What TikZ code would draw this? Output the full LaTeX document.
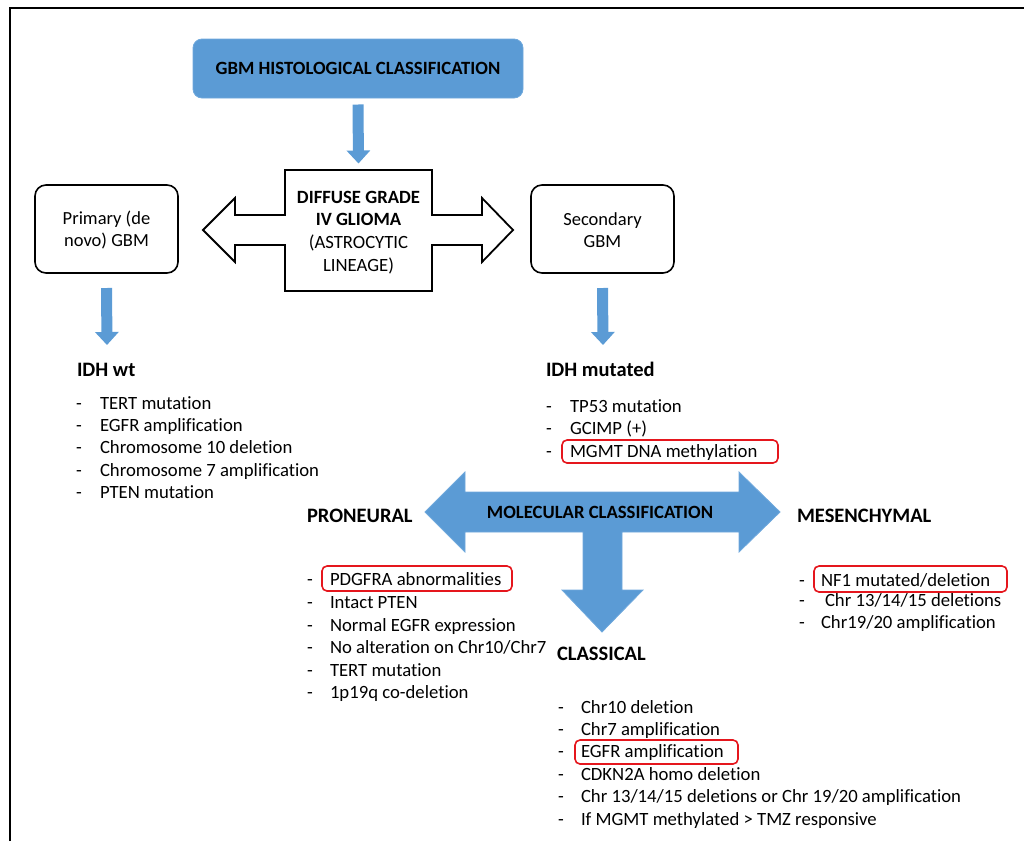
\documentclass[tikz,border=0pt]{standalone}
\usepackage{fontspec}
\setmainfont{Carlito}[Ligatures=NoCommon]
\usetikzlibrary{arrows.meta}
\definecolor{gblue}{HTML}{5B9BD5}
\definecolor{gblueedge}{HTML}{6FA8DC}
\definecolor{gred}{HTML}{E5161D}
\begin{document}
\begin{tikzpicture}[x=1pt,y=-1pt,
  every node/.style={font=\fontsize{18.7}{22}\selectfont, inner sep=0pt, outer sep=0pt},
  txt/.style={anchor=base west},
  hd/.style={anchor=base west, font=\fontsize{20.5}{24}\selectfont\bfseries},
  rbox/.style={draw=gred, line width=1.6pt, rounded corners=5pt, anchor=north west},
  bluearrow/.style={draw=gblue, line width=11pt, -{Triangle[width=23pt,length=13pt]}},
  blkbox/.style={draw=black, line width=1.6pt, rounded corners=11pt, align=center,
     font=\fontsize{18.5}{22}\selectfont, minimum width=143pt, minimum height=88pt},
  frameline/.style={line width=2.5pt, black},
  outarrow/.style={draw=black, line width=1.8pt, fill=white, line join=miter},
  bigarrow/.style={fill=gblue, draw=gblueedge, line width=0.8pt}
]
\useasboundingbox (0,0) rectangle (1024,841);
% frame
\coordinate (fl) at (10,841);
\coordinate (fc) at (10,8);
\coordinate (fr) at (1024,8);
\draw[frameline] (fl) -- (fc) -- (fr);

% title box
\node[fill=gblue, draw=gblueedge, line width=0.8pt, rounded corners=9pt,
      minimum width=330pt, minimum height=59pt,
      font=\fontsize{18.7}{22}\selectfont\bfseries] (gbm) at (358,68.5)
      {GBM HISTOLOGICAL CLASSIFICATION};

% central outlined double arrow
\draw[outarrow] (285,170) -- (432,170) -- (432,215) -- (482,215) -- (482,198)
  -- (513,230) -- (482,262) -- (482,245) -- (432,245) -- (432,291) -- (285,291)
  -- (285,245) -- (235,245) -- (235,262) -- (203,230) -- (235,198) -- (235,215)
  -- (285,215) -- cycle;
\node[align=center, font=\fontsize{18.7}{22.7}\selectfont, minimum width=147pt,
      minimum height=121pt] (diff) at (358.5,232.5)
  {\textbf{DIFFUSE GRADE}\\\textbf{IV GLIOMA}\\(ASTROCYTIC\\LINEAGE)};

\draw[bluearrow] ([yshift=-6.5pt]gbm.south) -- ([yshift=8.5pt]diff.north);

% primary / secondary
\node[blkbox] (prim) at (106.5,229) {\rule{0pt}{15pt}Primary (de\\novo) GBM};
\node[blkbox] (sec) at (602.5,229) {\rule{0pt}{15pt}Secondary\\GBM};

\coordinate (ia) at (107,345);
\coordinate (ib) at (603,345);
\draw[bluearrow] ([yshift=-15pt]prim.south) -- (ia);
\draw[bluearrow] ([yshift=-15pt]sec.south) -- (ib);

% IDH wt
\node[hd] (idhwt) at (77,376) {IDH wt};
\node[txt] at (76,409.5) {-};
\node[txt] at (76,431.5) {-};
\node[txt] at (76,453.5) {-};
\node[txt] at (76,476) {-};
\node[txt] at (76,498.5) {-};
\node[txt] (w1) at (100,409.5) {TERT mutation};
\node[txt] (w2) at (100,431.5) {EGFR amplification};
\node[txt] (w3) at (100,453.5) {Chromosome 10 deletion};
\node[txt] (w4) at (100,476) {Chromosome 7 amplification};
\node[txt] (w5) at (100,498.5) {PTEN mutation};

% IDH mutated
\node[hd] (idhm) at (546,376) {IDH mutated};
\node[txt] at (546,412) {-};
\node[txt] at (546,434.5) {-};
\node[txt] at (546,457) {-};
\node[txt] (m1) at (570,412) {TP53 mutation};
\node[txt] (m2) at (570,434.5) {GCIMP (+)};
\node[txt] (m3) at (570,457) {MGMT DNA methylation};
\node[rbox, minimum width=216pt, minimum height=23pt] (r1) at (562,440) {};

% molecular arrow
\draw[bigarrow] (425,512) -- (465,472) -- (465,492) -- (739,492) -- (739,472)
  -- (780,512) -- (739,552) -- (739,532) -- (622,532) -- (622,590) -- (643,590)
  -- (602,632) -- (562,590) -- (583,590) -- (583,532) -- (465,532) -- (465,552) -- cycle;
\node[font=\fontsize{18.7}{22}\selectfont\bfseries] (mol) at (600,512.5) {MOLECULAR CLASSIFICATION};

% proneural
\node[hd] (pro) at (307,522) {PRONEURAL};
\node[txt] at (307,585) {-};
\node[txt] at (307,608) {-};
\node[txt] at (307,631) {-};
\node[txt] at (307,653) {-};
\node[txt] at (307,676) {-};
\node[txt] at (307,698) {-};
\node[txt] (p1) at (330,585) {PDGFRA abnormalities};
\node[txt] (p2) at (330,608) {Intact PTEN};
\node[txt] (p3) at (330,631) {Normal EGFR expression};
\node[txt] (p4) at (330,653) {No alteration on Chr10/Chr7};
\node[txt] (p5) at (330,676) {TERT mutation};
\node[txt] (p6) at (330,698) {1p19q co-deletion};
\node[rbox, minimum width=190pt, minimum height=25pt] (r2) at (322,566) {};

% mesenchymal
\node[hd] (mes) at (797,522) {MESENCHYMAL};
\node[txt] at (799,586) {-};
\node[txt] at (799,606) {-};
\node[txt] at (799,628) {-};
\node[txt] (s1) at (821,586) {NF1 mutated/deletion};
\node[txt] (s2) at (825,606) {Chr 13/14/15 deletions};
\node[txt] (s3) at (821,628) {Chr19/20 amplification};
\node[rbox, minimum width=193pt, minimum height=26pt] (r3) at (814,566) {};

% classical
\node[hd] (cla) at (557,660) {CLASSICAL};
\node[txt] at (558,713) {-};
\node[txt] at (558,735) {-};
\node[txt] at (558,757) {-};
\node[txt] at (558,780) {-};
\node[txt] at (558,802) {-};
\node[txt] at (558,825) {-};
\node[txt] (c1) at (581,713) {Chr10 deletion};
\node[txt] (c2) at (581,735) {Chr7 amplification};
\node[txt] (c3) at (581,757) {EGFR amplification};
\node[txt] (c4) at (581,780) {CDKN2A homo deletion};
\node[txt] (c5) at (581,802) {Chr 13/14/15 deletions or Chr 19/20 amplification};
\node[txt] (c6) at (581,825) {If MGMT methylated > TMZ responsive};
\node[rbox, minimum width=163pt, minimum height=24pt] (r4) at (575,740) {};
\end{tikzpicture}
\end{document}
